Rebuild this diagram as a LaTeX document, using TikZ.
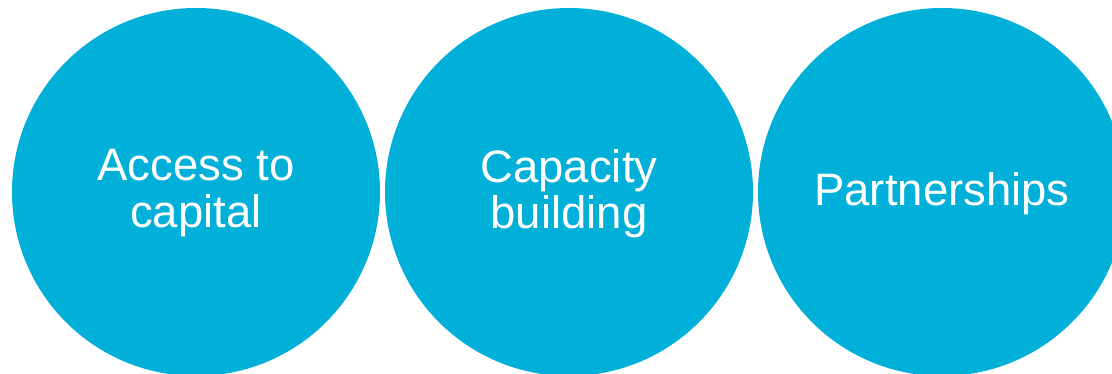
\documentclass[tikz,border=0pt]{standalone}
\usepackage{fontspec}
\setmainfont{Liberation Sans}
\usetikzlibrary{calc}
\definecolor{discblue}{RGB}{0,176,216}
\begin{document}
\begin{tikzpicture}[x=1pt,y=1pt,
  disc/.style={circle, fill=discblue, draw=none, inner sep=0pt, minimum size=368pt},
  disclabel/.style={text=white, inner sep=0pt, align=center,
    font=\fontsize{45.5}{46.5}\selectfont}]
  \useasboundingbox (0,0) rectangle (1112,374);
  \clip (0,0) rectangle (1112,374);
  % three discs in a row
  \node[disc] (capital) at (196,182) {};
  \node[disc] (capacity) at (569,182) {};
  \node[disc] (partners) at (942,182) {};
  % labels
  \node[disclabel, anchor=north] (capitaltext) at ($(capital.center)+(0,42.6)$) {Access to\\capital};
  \node[disclabel, anchor=north] (capacitytext) at ($(capacity.center)+(0,43.1)$) {Capacity\\building};
  \node[disclabel, anchor=base] (partnerstext) at ($(partners.center)+(0,-14)$) {Partnerships};
\end{tikzpicture}
\end{document}
